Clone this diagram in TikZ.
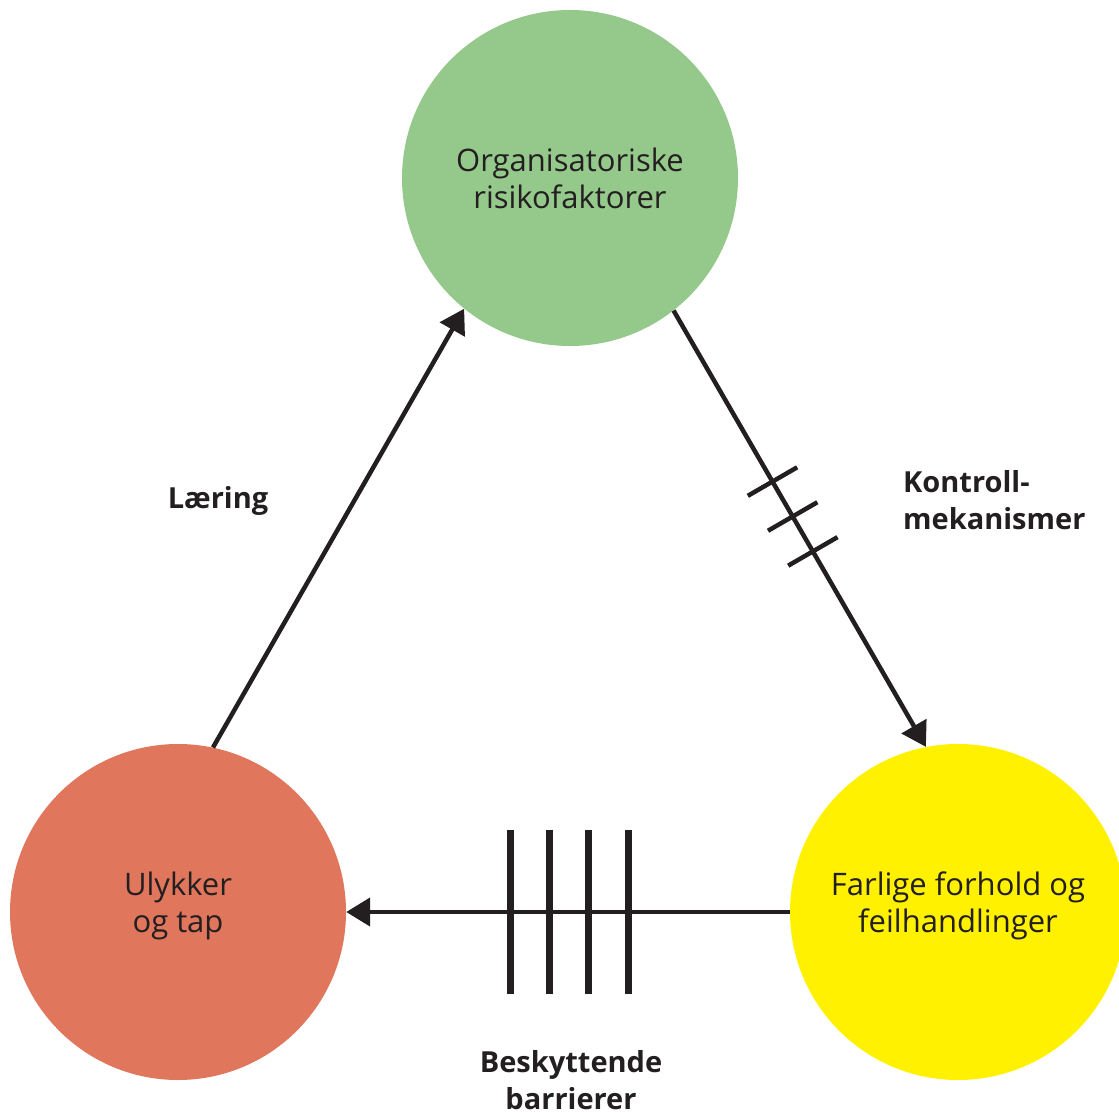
\documentclass[tikz,border=0pt]{standalone}
\usepackage{fontspec}
\setmainfont{Open Sans}
\usetikzlibrary{arrows.meta,calc}
\definecolor{cgreen}{HTML}{95C88B}
\definecolor{cred}{HTML}{E0765C}
\definecolor{cyellow}{HTML}{FFF100}
\definecolor{cline}{HTML}{231F20}
\tikzset{
  blob/.style={circle,minimum size=336pt,inner sep=0pt,align=center,
    font=\fontsize{31}{37}\selectfont,text=cline},
  arr/.style={line width=4.5pt,draw=cline,-{Triangle[length=24pt,width=28pt]}},
  lbl/.style={inner sep=0pt,font=\bfseries\fontsize{29}{37}\selectfont,text=cline},
  tickmark/.style={fill=cline,inner sep=0pt,minimum width=4.5pt,minimum height=57pt},
  barmark/.style={fill=cline,inner sep=0pt,minimum width=7pt,minimum height=164pt}
}
\begin{document}
\begin{tikzpicture}[x=1pt,y=-1pt]
\useasboundingbox (0,0) rectangle (1119,1115);
\clip (0,0) rectangle (1119,1115);
\node[blob,fill=cgreen] (g) at (570,178) {Organisatoriske\\risikofaktorer};
\node[blob,fill=cred] (r) at (178,912) {};
\node[blob,fill=cyellow] (y) at (958,912) {};
\node[blob] (rt) at (178,906) {Ulykker\\og tap};
\node[blob] (yt) at (958,906) {Farlige forhold og\\feilhandlinger};
\draw[arr] (r.78) -- (g.231.3);
\draw[arr] (g.308.5) -- (y.101.2);
\draw[arr] (y.180) -- (r.0);
\path (g.308.5) -- (y.101.2)
  node[pos=0.392,sloped,tickmark] (t1) {}
  node[pos=0.472,sloped,tickmark] (t2) {}
  node[pos=0.552,sloped,tickmark] (t3) {};
\node[barmark] (b1) at ($(y.180)!0.3634!(r.0)$) {};
\node[barmark] (b2) at ($(y.180)!0.4537!(r.0)$) {};
\node[barmark] (b3) at ($(y.180)!0.5418!(r.0)$) {};
\node[barmark] (b4) at ($(y.180)!0.6298!(r.0)$) {};
\node[lbl] (l1) at (218,501) {Læring};
\node[lbl,anchor=west,align=left] (l2) at (903,500) {Kontroll-\\mekanismer};
\node[lbl,align=center] (l3) at (571,1080) {Beskyttende\\barrierer};
\end{tikzpicture}
\end{document}
